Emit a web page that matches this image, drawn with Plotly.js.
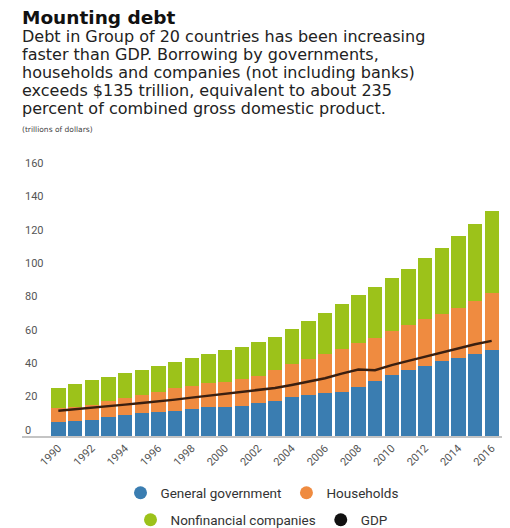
<!DOCTYPE html>
<html>
<head>
<meta charset="utf-8">
<script src="https://cdn.plot.ly/plotly-3.0.1.min.js"></script>
<style>html,body{margin:0;padding:0;background:#fff;}#chart{width:510px;height:528px;}</style>
</head>
<body>
<div id="chart"></div>
<script>
// ---- data (trillions of dollars) ----
const years = [1990,1991,1992,1993,1994,1995,1996,1997,1998,1999,2000,2001,2002,2003,2004,2005,2006,2007,2008,2009,2010,2011,2012,2013,2014,2015,2016];
const generalGovernment = [8.3,9.1,9.8,11.6,12.5,13.6,14.5,15.0,16.3,17.5,17.6,18.2,19.6,21.1,23.5,24.6,25.6,26.5,29.2,32.9,36.5,39.5,41.9,44.9,46.9,49.3,51.5];
const households = [8.2,8.1,8.7,9.2,10.5,11.2,11.8,13.6,13.5,14.0,14.9,16.0,16.6,18.4,19.4,21.3,23.3,25.6,26.3,26.0,26.4,27.0,28.0,28.0,29.9,31.5,34.2];
const nonfinancialCompanies = [12.5,13.7,14.9,14.3,14.5,15.0,15.7,15.7,16.8,17.5,18.9,19.3,20.3,20.0,21.4,23.0,24.6,26.9,28.9,30.1,31.9,33.5,36.5,39.9,43.1,46.3,49.0];
const gdp = [15.2,16.0,17.0,18.0,18.8,19.8,20.6,21.8,23.0,24.2,25.5,26.5,27.5,28.8,30.6,32.4,34.6,37.4,39.9,39.4,42.5,45.0,47.5,50.0,52.5,55.0,57.0];
const tickYears = [1990,1992,1994,1996,1998,2000,2002,2004,2006,2008,2010,2012,2014,2016];
const tickLabels = tickYears.map(String);
const yTicks = [0,20,40,60,80,100,120,140,160];

const titleText = 'Mounting debt';
const subtitleLines = [
  'Debt in Group of 20 countries has been increasing',
  'faster than GDP. Borrowing by governments,',
  'households and companies (not including banks)',
  'exceeds $135 trillion, equivalent to about 235',
  'percent of combined gross domestic product.'
];
const unitText = '(trillions of dollars)';
const names = ['General government','Households','Nonfinancial companies','GDP'];
const colors = ['#3a7db1','#ef8b40','#9cc21a','#111111'];

// ---- layout geometry ----
const W = 510, H = 528;
const M = {l: 22, r: 8, t: 169, b: 92, autoexpand: false};
const plotW = W - M.l - M.r, plotH = H - M.t - M.b;
const px = x => (x - M.l) / plotW;
const py = y => (H - M.b - y) / plotH;

const traces = [
  {type:'bar', x: years, y: generalGovernment, name: names[0], marker:{color: colors[0]}, showlegend:false},
  {type:'bar', x: years, y: households, name: names[1], marker:{color: colors[1]}, showlegend:false},
  {type:'bar', x: years, y: nonfinancialCompanies, name: names[2], marker:{color: colors[2]}, showlegend:false},
  {type:'scatter', mode:'lines', x: years, y: gdp, name: names[3], line:{color:'#3a1f10', width:2.5}, showlegend:false},
];
// legend entries (circle symbols)
const legendOf = ['legend','legend','legend2','legend2'];
names.forEach((n,i) => traces.push({
  type:'scatter', mode:'markers', x:[null], y:[null], name:n, legend: legendOf[i],
  marker:{color: colors[i], size: 13, symbol:'circle'}, showlegend:true, hoverinfo:'skip'
}));

// header: one text block, line spacing 1.3 x 13.85px = 18px
const header = '<span style="font-size:18.5px;font-weight:bold;fill:#111">' + titleText + '</span><br>' +
  subtitleLines.map(t => '<span style="font-size:16px">' + t + '</span>').join('<br>') +
  '<br><span style="font-size:7.5px;fill:#444">' + unitText + '</span>';

const annotations = [{
  text: header, xref:'paper', yref:'paper', x: px(20), y: py(5), xanchor:'left', yanchor:'top', align:'left',
  showarrow:false, font:{family:'DejaVu Sans', size:13.85, color:'#222'}
}];

const layout = {
  width: W, height: H,
  margin: M,
  paper_bgcolor:'#fff', plot_bgcolor:'#fff',
  barmode:'stack', bargap: 0.14,
  font:{family:'Roboto, DejaVu Sans, sans-serif', color:'#444'},
  xaxis:{
    range:[1987.82, 2016.62], tickmode:'array', tickvals: tickYears, ticktext: tickLabels,
    tickangle:-45, ticks:'', showgrid:false, zeroline:false,
    showline:true, linecolor:'#c4c4c4', linewidth:1.5,
    tickfont:{family:'Roboto', size:11, color:'#555'}, fixedrange:true
  },
  yaxis:{
    range:[0,160], tickmode:'array', tickvals: yTicks, ticktext: yTicks.map(String),
    ticklabelposition:'inside', ticklabelshift: -6, ticklabelstandoff: 0, ticklabeloverflow:'allow',
    ticks:'', showgrid:false, zeroline:false, showline:false,
    tickfont:{family:'Roboto', size:11, color:'#555'}, fixedrange:true
  },
  legend:{orientation:'h', traceorder:'normal', x:0.5, xanchor:'center', y: py(493), yanchor:'middle', font:{family:'Roboto', size:13.5, color:'#333'}, bgcolor:'rgba(0,0,0,0)'},
  legend2:{orientation:'h', traceorder:'normal', x:0.5, xanchor:'center', y: py(520), yanchor:'middle', font:{family:'Roboto', size:13.5, color:'#333'}, bgcolor:'rgba(0,0,0,0)'},
  annotations: annotations,
  showlegend:true
};

Plotly.newPlot('chart', traces, layout, {displayModeBar:false, staticPlot:true});
</script>
</body>
</html>
